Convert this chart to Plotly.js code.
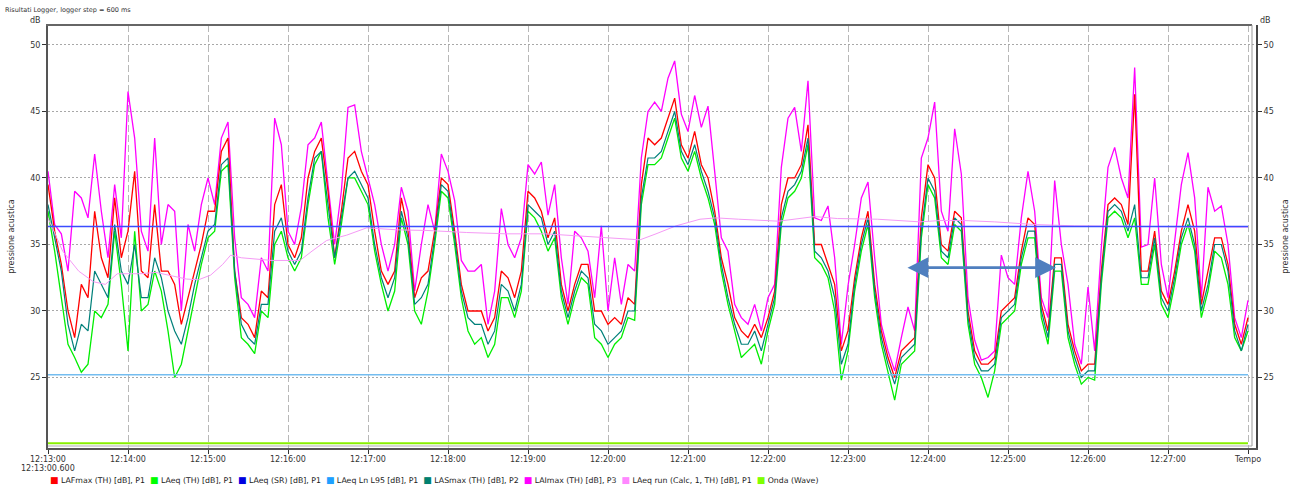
<!DOCTYPE html>
<html><head><meta charset="utf-8">
<script src="https://cdn.plot.ly/plotly-3.0.1.min.js"></script>
<style>html,body{margin:0;padding:0;background:#fff}#chart{width:1290px;height:488px}</style>
</head><body><div id="chart"></div>
<script>
// ---------------- data (sample every 5 s from 12:13:00) ----------------
const STEP_S = 5;
const LAImax = [40.5,36.5,35.8,33,39,38.5,37,41.8,37.5,34,
39.5,35.5,46.5,43,36,34.5,43,35,38,37.5,
30,36.5,34.5,38,40,38,43,44.2,35.5,31,
30.5,29.5,34,33,44.5,42.5,36,35,37.8,42.5,
43,44.2,39.5,35,39,45.3,45.5,42,40,38,
35,33,35,39.3,37.5,31.5,35,38,36,41.8,
40.5,38.3,33.8,33,33,33.5,29,31.5,37.7,35,
34,35.5,41,40.3,41.2,37.2,39.5,34,30.5,36,
35.5,34.5,31,36.4,30,34,30.5,33.5,33,41.5,
45,45.7,45,47.5,48.8,44.8,43.5,46.2,43.8,45.4,
40.5,35.5,34.5,30.5,29.5,29,30.5,28.5,31,32,
40.8,44.5,45.3,42,47.3,37,36.8,37.9,34,27.5,
31.9,35,38.5,39.7,34,29,27,25.5,28,30.3,
28.5,41.5,43,45.7,37.5,36,43.7,40.3,31,27.8,
26.3,26.5,27,34.2,32.5,32,37,40.5,37.5,31,
29.5,39.8,35,32,27.5,26,31.8,27,34.8,40.8,
42.3,40,38.5,48.3,34.8,35,40,33.5,31,35.5,
39.5,41.9,38.5,31,39.3,37.5,37.9,35,29.5,28,30.8];
const LAFmax = [39.5,36,33.5,30,28,32,31,37.5,34,32.5,
38.5,34,36,40.5,33,32.5,38,33,33,32,
29,31,33,35,37.5,37.5,42,43,33,29.5,
29,28,31.5,31,38,39.5,35,34,35.5,40,
42,43,39,34,37.5,41.5,42,40.5,39.5,36,
33,32,33,38.5,36,31,32.5,33,36,40,
39.5,36,32,30,30,30,28.5,29.5,33,32.5,
31,33,39,38.5,37.5,35.5,37,32,30,32,
33.5,33.5,30,30,29,29.5,29,31,30.5,39.5,
43,42.5,43,44.5,46,42.5,41.5,43.5,41,40,
37.5,34,32,29.5,28.5,28,29,28,29.5,31.5,
38,40,40,41,44,35,35,33.5,32,27,
28.5,32.5,35.5,37.5,32,28.5,26.5,25,27,27.5,
28,37,41,40,35,34.5,37.5,37,30,27,
26,26,26.5,30,30.5,31,34.5,37,36.5,30.5,
28.5,34,34,29,27,25.5,26,26,33,38,
38.5,38,36.5,46.3,33,33,36,31.5,30.5,33,
36,38,36,30.5,33,35.5,35.5,33.5,29,27.5,29.5];
const LASmax = [38,35.5,33,29,27,29,28.5,33,32,31,
36.5,33,32,35,31,31,34,32.5,30,28.5,
27.5,29.5,32,34,36,36.5,41,41.5,33,29,
28,27.5,30.5,30.5,36,37,34.5,33.5,34.5,38.5,
41.5,42,38,34,37,40,40.5,39.5,38.5,35,
32.5,31,32.5,37.5,35.5,30.5,31,32,35.5,39.5,
39,35.5,31.5,29.5,29,29,27.5,28.5,32,31.5,
30,32,38,37.5,37,35,36,31.5,29.5,31.5,
33,32.5,29,28.5,27.5,28,28.5,30,30,38.5,
41.5,41.5,42,43.5,45,42,41,42.5,40.5,39,
37,33.5,31,29,27.5,27.5,28.5,27,29,31,
37,39,39.5,40.5,43,34.5,34,33,31,26,
27.5,32,35,37,31.5,28,26,24.5,26.5,27,
27.5,36,40,39,34.5,34,37,36.5,29.5,26.5,
25.5,25.5,26,29.5,30,30.5,34,36,36,30,
28,33.5,33.5,28.5,26.5,25,25.5,25.5,32.5,37.5,
38,37.5,36,38,32.5,32.5,35.5,31,30,32.5,
35.5,37,35,30,32,35,35,33,28.5,27,29];
const LAeq = [37.5,34.5,31,27.5,26.5,25.4,26,30,29.5,30.5,
36,32,27,36,30,30.5,33,31.5,28.5,25,
26,28.5,31,33.5,35.5,36,40.5,41,32.5,28,
27.5,26.8,30,29.5,35,36,34,33,34,38,
41,42,37,33.5,36.5,40,40,39,38,34.5,
32,30,31.5,37,35,30,29,31.5,35,39,
38.5,35,31,28.5,27.5,28,26.5,27.5,31,31,
29.5,31.5,37.5,37,36,34.5,35.5,31,29,31,
32.5,32,28,27.5,26.5,27.5,28,29.5,29.3,38,
41,41,41.5,43,44.5,41.5,40.5,42,40,38.5,
36.5,33,30.5,28.5,26.5,27,27.5,26,28.5,30.5,
36.5,38.5,39,40,42.5,34,33.5,32.5,30,24.8,
27,31.5,34.5,36.5,31,27.5,25.5,23.3,26,26.5,
27,35.5,39.5,38.5,34,33.5,36.5,36,29,26,
25,23.5,25.5,29,29.5,30,33.5,35.5,35.5,29.5,
27.5,33,33,28,26,24.5,25,24.8,32,37,
37.5,37,35.5,37,32,32,35,30.5,29.5,32,
35,36.5,34.5,29.5,31.5,34.5,34,32,28,27,28.5];
// LAeq run: seconds from 12:13:00 and values
const runSeconds = [0,11,23,34,43,52,69,81,104,113,122,131,137,145,168,189,198,209,224,239,262,285,314,344,373,402,431,444,456,471,489,501,518,548,575,592,622,654,669,687,710,740,770,799,829,858,900];
const LAeqRun = [37.0,34.5,33.0,32.2,32.0,32.8,32.8,32.9,32.4,32.35,32.7,33.5,34.2,34.0,33.8,33.8,34.5,35.3,35.7,36.25,36.1,36.05,35.9,35.8,35.8,35.6,35.4,35.35,35.8,36.4,36.9,37.0,36.9,36.75,37.1,36.95,36.9,36.7,36.8,36.8,36.7,36.5,36.4,36.4,36.35,36.3,36.3];
const LAeqSR = 36.35;
const LAeqL95 = 25.2;
const OndaWave = 20.05;
const seriesEnd = 900;
const arrowFrom = 643.5, arrowTo = 756, arrowLevel = 33.26;
const tickText = ['12:13:00','12:14:00','12:15:00','12:16:00','12:17:00','12:18:00','12:19:00','12:20:00','12:21:00','12:22:00','12:23:00','12:24:00','12:25:00','12:26:00','12:27:00','Tempo'];
const startLabel = '12:13:00.600';
const yTicks = [25,30,35,40,45,50];
const legendNames = ['LAFmax (TH) [dB], P1','LAeq (TH) [dB], P1','LAeq (SR) [dB], P1','LAeq Ln L95 [dB], P1','LASmax (TH) [dB], P2','LAImax (TH) [dB], P3','LAeq run (Calc, 1, TH) [dB], P1','Onda (Wave)'];

// ---------------- styles ----------------
const C = {red:'#ff0000', green:'#00ee00', blue:'#3b4cff', lblue:'#74bdf0', teal:'#00807a', mag:'#ff00ff', pink:'#f59af5', lime:'#88f000'};
const legendColors = ['#ff0000','#00ff00','#0000e0','#1ea0ff','#00806f','#ff00ff','#ff88ff','#80ff00'];

function ts(sec){
  const d = new Date(Date.UTC(2000,0,1,12,13,0) + Math.round(sec*1000));
  return d.toISOString().replace('T',' ').replace('Z','');
}
const tStep = arr => arr.map((_,i)=>ts(i*STEP_S));
const flat = v => ({x:[ts(0), ts(seriesEnd)], y:[v, v]});

const traces = [
  Object.assign({type:'scatter', mode:'lines', name:'Onda (Wave)', line:{color:C.lime, width:2}}, flat(OndaWave)),
  {type:'scatter', mode:'lines', name:'LAImax (TH) [dB], P3', x:tStep(LAImax), y:LAImax, line:{color:C.mag, width:1.3}},
  {type:'scatter', mode:'lines', name:'LAFmax (TH) [dB], P1', x:tStep(LAFmax), y:LAFmax, line:{color:C.red, width:1.3}},
  {type:'scatter', mode:'lines', name:'LAeq (TH) [dB], P1', x:tStep(LAeq), y:LAeq, line:{color:C.green, width:1.3}},
  {type:'scatter', mode:'lines', name:'LASmax (TH) [dB], P2', x:tStep(LASmax), y:LASmax, line:{color:C.teal, width:1.2}},
  {type:'scatter', mode:'lines', name:'LAeq run (Calc, 1, TH) [dB], P1', x:runSeconds.map(ts), y:LAeqRun, line:{color:C.pink, width:1}},
  Object.assign({type:'scatter', mode:'lines', name:'LAeq (SR) [dB], P1', line:{color:C.blue, width:1.5}}, flat(LAeqSR)),
  Object.assign({type:'scatter', mode:'lines', name:'LAeq Ln L95 [dB], P1', yaxis:'y2', line:{color:C.lblue, width:1.5}}, flat(LAeqL95))
];

const yRange = [19.7, 51.5];
const plotL = 48, plotR = 1256, plotT = 25, plotB = 448;
const px2x = p => (p - plotL)/(plotR - plotL);
const px2y = p => (plotB - p)/(plotB - plotT);

const legendText = legendNames.map((n,i)=>
  '<span style="color:'+legendColors[i]+';font-size:9px">■</span> '+n).join('  ');

const axisFont = {family:'DejaVu Sans, Verdana, sans-serif', size:8, color:'#333'};
const layout = {
  width:1290, height:488,
  margin:{l:plotL, r:1290-plotR, t:plotT, b:488-plotB, pad:0},
  paper_bgcolor:'#fff', plot_bgcolor:'#fff',
  font:axisFont,
  showlegend:false,
  title:{text:'Risultati Logger, logger step = 600 ms', xref:'container', yref:'container', x:5/1290, xanchor:'left', y:1-10/488, yanchor:'middle', font:{family:'DejaVu Sans, Verdana, sans-serif', size:6.5, color:'#333'}},
  xaxis:{type:'date', range:[ts(0), ts(906)], tickmode:'array', tickvals:tickText.map((_,i)=>ts(i*60)), ticktext:tickText, tickangle:0,
    ticks:'outside', ticklen:4, tickcolor:'#333', ticklabelstandoff:-2, showline:true, linecolor:'#555', linewidth:2,
    showgrid:true, gridcolor:'#b8b8b8', griddash:'7px,3px', gridwidth:1, zeroline:false, tickfont:axisFont, fixedrange:true},
  yaxis:{range:yRange, tickmode:'array', tickvals:yTicks, ticks:'outside', ticklen:4, tickcolor:'#333',
    showline:true, linecolor:'#555', linewidth:2, showgrid:true, gridcolor:'#a8a8a8', griddash:'2px,2px', zeroline:false,
    tickfont:axisFont, title:{text:'pressione acustica', standoff:14, font:axisFont}},
  yaxis2:{overlaying:'y', side:'right', range:yRange, tickmode:'array', tickvals:yTicks, ticks:'outside', ticklen:4, tickcolor:'#333',
    showline:true, linecolor:'#444', linewidth:2, showgrid:false, zeroline:false,
    tickfont:axisFont, title:{text:'pressione acustica', standoff:10, font:axisFont}},
  shapes:[
    {type:'line', xref:'paper', yref:'paper', x0:px2x(46), x1:px2x(1252), y0:1, y1:1, line:{color:'#666', width:2}},
    {type:'line', xref:'paper', yref:'paper', x0:px2x(1252), x1:px2x(1252), y0:px2y(446), y1:1, line:{color:'#999', width:1}},
    {type:'line', xref:'paper', yref:'paper', x0:0, x1:px2x(1252), y0:px2y(446), y1:px2y(446), line:{color:'#aaa', width:1}}
  ],
  annotations:[
    {xref:'paper', yref:'paper', x:px2x(43), y:px2y(20), xanchor:'right', yanchor:'middle', text:'dB', showarrow:false, font:axisFont},
    {xref:'paper', yref:'paper', x:px2x(1258), y:px2y(20), xanchor:'left', yanchor:'middle', text:'dB', showarrow:false, font:axisFont},
    {xref:'paper', yref:'paper', x:0, y:px2y(468), xanchor:'center', yanchor:'middle', text:startLabel, showarrow:false, font:axisFont},
    {xref:'paper', yref:'paper', x:0, y:px2y(479.5), xanchor:'left', yanchor:'middle', text:legendText, showarrow:false, font:{family:'DejaVu Sans, Verdana, sans-serif', size:7.8, color:'#222'}},
    {xref:'x', yref:'y', axref:'x', ayref:'y', x:ts(arrowTo), y:arrowLevel, ax:ts(arrowFrom), ay:arrowLevel, text:'',
      showarrow:true, arrowside:'end+start', arrowhead:2, startarrowhead:2, arrowsize:1.6, startarrowsize:1.6, arrowwidth:2.6, arrowcolor:'#4f7fbf'}
  ]
};

Plotly.newPlot('chart', traces, layout, {staticPlot:true, displayModeBar:false});
</script>
</body></html>
